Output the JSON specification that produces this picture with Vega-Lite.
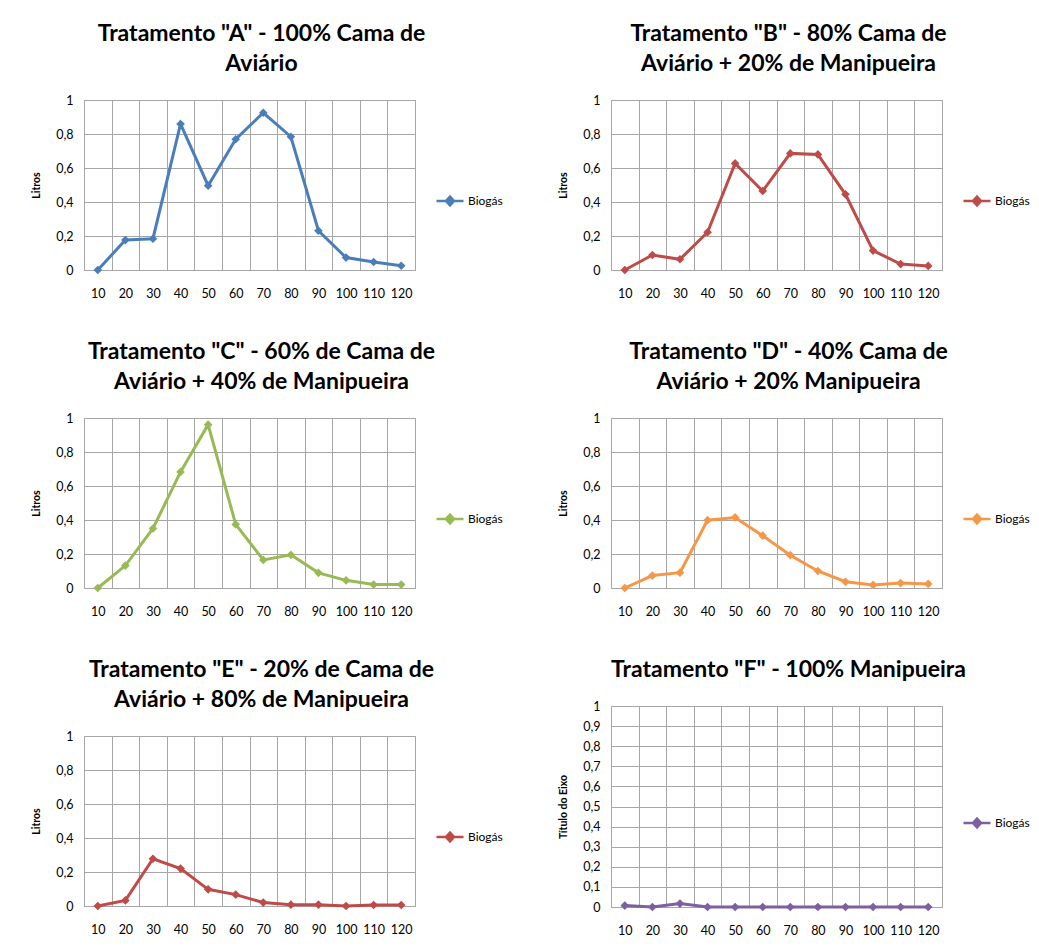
{
  "$schema": "https://vega.github.io/schema/vega-lite/v6.json",
  "padding": {"left": 31, "top": 22, "right": 0, "bottom": 0},
  "background": "white",
  "datasets": {
    "biogas": [
      {"trat": "A", "dia": 10, "litros": 0.0},
      {"trat": "A", "dia": 20, "litros": 0.176},
      {"trat": "A", "dia": 30, "litros": 0.184},
      {"trat": "A", "dia": 40, "litros": 0.859},
      {"trat": "A", "dia": 50, "litros": 0.496},
      {"trat": "A", "dia": 60, "litros": 0.769},
      {"trat": "A", "dia": 70, "litros": 0.925},
      {"trat": "A", "dia": 80, "litros": 0.784},
      {"trat": "A", "dia": 90, "litros": 0.231},
      {"trat": "A", "dia": 100, "litros": 0.073},
      {"trat": "A", "dia": 110, "litros": 0.047},
      {"trat": "A", "dia": 120, "litros": 0.025},
      {"trat": "B", "dia": 10, "litros": 0.0},
      {"trat": "B", "dia": 20, "litros": 0.088},
      {"trat": "B", "dia": 30, "litros": 0.063},
      {"trat": "B", "dia": 40, "litros": 0.222},
      {"trat": "B", "dia": 50, "litros": 0.627},
      {"trat": "B", "dia": 60, "litros": 0.465},
      {"trat": "B", "dia": 70, "litros": 0.686},
      {"trat": "B", "dia": 80, "litros": 0.68},
      {"trat": "B", "dia": 90, "litros": 0.445},
      {"trat": "B", "dia": 100, "litros": 0.114},
      {"trat": "B", "dia": 110, "litros": 0.035},
      {"trat": "B", "dia": 120, "litros": 0.024},
      {"trat": "C", "dia": 10, "litros": 0.0},
      {"trat": "C", "dia": 20, "litros": 0.132},
      {"trat": "C", "dia": 30, "litros": 0.35},
      {"trat": "C", "dia": 40, "litros": 0.683},
      {"trat": "C", "dia": 50, "litros": 0.961},
      {"trat": "C", "dia": 60, "litros": 0.374},
      {"trat": "C", "dia": 70, "litros": 0.165},
      {"trat": "C", "dia": 80, "litros": 0.195},
      {"trat": "C", "dia": 90, "litros": 0.089},
      {"trat": "C", "dia": 100, "litros": 0.045},
      {"trat": "C", "dia": 110, "litros": 0.02},
      {"trat": "C", "dia": 120, "litros": 0.02},
      {"trat": "D", "dia": 10, "litros": 0.0},
      {"trat": "D", "dia": 20, "litros": 0.073},
      {"trat": "D", "dia": 30, "litros": 0.09},
      {"trat": "D", "dia": 40, "litros": 0.399},
      {"trat": "D", "dia": 50, "litros": 0.415},
      {"trat": "D", "dia": 60, "litros": 0.308},
      {"trat": "D", "dia": 70, "litros": 0.193},
      {"trat": "D", "dia": 80, "litros": 0.1},
      {"trat": "D", "dia": 90, "litros": 0.037},
      {"trat": "D", "dia": 100, "litros": 0.018},
      {"trat": "D", "dia": 110, "litros": 0.029},
      {"trat": "D", "dia": 120, "litros": 0.024},
      {"trat": "E", "dia": 10, "litros": 0.0},
      {"trat": "E", "dia": 20, "litros": 0.033},
      {"trat": "E", "dia": 30, "litros": 0.278},
      {"trat": "E", "dia": 40, "litros": 0.22},
      {"trat": "E", "dia": 50, "litros": 0.098},
      {"trat": "E", "dia": 60, "litros": 0.067},
      {"trat": "E", "dia": 70, "litros": 0.02},
      {"trat": "E", "dia": 80, "litros": 0.008},
      {"trat": "E", "dia": 90, "litros": 0.008},
      {"trat": "E", "dia": 100, "litros": 0.0},
      {"trat": "E", "dia": 110, "litros": 0.006},
      {"trat": "E", "dia": 120, "litros": 0.006},
      {"trat": "F", "dia": 10, "litros": 0.007},
      {"trat": "F", "dia": 20, "litros": 0.0},
      {"trat": "F", "dia": 30, "litros": 0.017},
      {"trat": "F", "dia": 40, "litros": 0.0},
      {"trat": "F", "dia": 50, "litros": 0.0},
      {"trat": "F", "dia": 60, "litros": 0.0},
      {"trat": "F", "dia": 70, "litros": 0.0},
      {"trat": "F", "dia": 80, "litros": 0.0},
      {"trat": "F", "dia": 90, "litros": 0.0},
      {"trat": "F", "dia": 100, "litros": 0.0},
      {"trat": "F", "dia": 110, "litros": 0.0},
      {"trat": "F", "dia": 120, "litros": 0.0}
    ]
  },
  "data": {"name": "biogas"},
  "columns": 2,
  "align": {"row": "none", "column": "all"},
  "spacing": {"column": 54, "row": 40},
  "resolve": {"scale": {"color": "independent", "x": "independent", "y": "independent"}, "legend": {"color": "independent"}},
  "concat": [
    {
      "width": 331, "height": 170,
      "title": {"text": ["Tratamento \"A\" - 100% Cama de", "Aviário"]},
      "transform": [{"filter": "datum.trat === 'A'"}],
      "encoding": {
        "x": {"field": "dia", "type": "ordinal", "bandPosition": 0.5, "scale": {"type": "band", "paddingInner": 0, "paddingOuter": 0}, "axis": {"title": null, "labelAngle": 0, "tickBand": "extent", "ticks": false, "domain": false, "grid": true}},
        "y": {"field": "litros", "type": "quantitative", "scale": {"domain": [0, 1], "nice": false}, "axis": {"title": "Litros", "values": [0, 0.2, 0.4, 0.6, 0.8, 1], "labelExpr": "replace(format(datum.value, '~g'), '.', ',')", "ticks": false, "domain": false}},
        "color": {"datum": "Biogás", "type": "nominal", "scale": {"range": ["#4A7EBB"]}, "legend": {"orient": "none", "legendX": 351, "legendY": 86}}
      },
      "layer": [
        {"mark": {"type": "line", "strokeWidth": 3}},
        {"mark": {"type": "point", "shape": "diamond", "filled": true, "size": 75, "opacity": 1}}
      ]
    },
    {
      "width": 331, "height": 170,
      "title": {"text": ["Tratamento \"B\" - 80% Cama de", "Aviário + 20% de Manipueira"]},
      "transform": [{"filter": "datum.trat === 'B'"}],
      "encoding": {
        "x": {"field": "dia", "type": "ordinal", "bandPosition": 0.5, "scale": {"type": "band", "paddingInner": 0, "paddingOuter": 0}, "axis": {"title": null, "labelAngle": 0, "tickBand": "extent", "ticks": false, "domain": false, "grid": true}},
        "y": {"field": "litros", "type": "quantitative", "scale": {"domain": [0, 1], "nice": false}, "axis": {"title": "Litros", "values": [0, 0.2, 0.4, 0.6, 0.8, 1], "labelExpr": "replace(format(datum.value, '~g'), '.', ',')", "ticks": false, "domain": false}},
        "color": {"datum": "Biogás", "type": "nominal", "scale": {"range": ["#BE4B48"]}, "legend": {"orient": "none", "legendX": 351, "legendY": 86}}
      },
      "layer": [
        {"mark": {"type": "line", "strokeWidth": 3}},
        {"mark": {"type": "point", "shape": "diamond", "filled": true, "size": 75, "opacity": 1}}
      ]
    },
    {
      "width": 331, "height": 170,
      "title": {"text": ["Tratamento \"C\" - 60% de Cama de", "Aviário + 40% de Manipueira"]},
      "transform": [{"filter": "datum.trat === 'C'"}],
      "encoding": {
        "x": {"field": "dia", "type": "ordinal", "bandPosition": 0.5, "scale": {"type": "band", "paddingInner": 0, "paddingOuter": 0}, "axis": {"title": null, "labelAngle": 0, "tickBand": "extent", "ticks": false, "domain": false, "grid": true}},
        "y": {"field": "litros", "type": "quantitative", "scale": {"domain": [0, 1], "nice": false}, "axis": {"title": "Litros", "values": [0, 0.2, 0.4, 0.6, 0.8, 1], "labelExpr": "replace(format(datum.value, '~g'), '.', ',')", "ticks": false, "domain": false}},
        "color": {"datum": "Biogás", "type": "nominal", "scale": {"range": ["#98B954"]}, "legend": {"orient": "none", "legendX": 351, "legendY": 86}}
      },
      "layer": [
        {"mark": {"type": "line", "strokeWidth": 3}},
        {"mark": {"type": "point", "shape": "diamond", "filled": true, "size": 75, "opacity": 1}}
      ]
    },
    {
      "width": 331, "height": 170,
      "title": {"text": ["Tratamento \"D\" - 40% Cama de", "Aviário + 20% Manipueira"]},
      "transform": [{"filter": "datum.trat === 'D'"}],
      "encoding": {
        "x": {"field": "dia", "type": "ordinal", "bandPosition": 0.5, "scale": {"type": "band", "paddingInner": 0, "paddingOuter": 0}, "axis": {"title": null, "labelAngle": 0, "tickBand": "extent", "ticks": false, "domain": false, "grid": true}},
        "y": {"field": "litros", "type": "quantitative", "scale": {"domain": [0, 1], "nice": false}, "axis": {"title": "Litros", "values": [0, 0.2, 0.4, 0.6, 0.8, 1], "labelExpr": "replace(format(datum.value, '~g'), '.', ',')", "ticks": false, "domain": false}},
        "color": {"datum": "Biogás", "type": "nominal", "scale": {"range": ["#F79646"]}, "legend": {"orient": "none", "legendX": 351, "legendY": 86}}
      },
      "layer": [
        {"mark": {"type": "line", "strokeWidth": 3}},
        {"mark": {"type": "point", "shape": "diamond", "filled": true, "size": 75, "opacity": 1}}
      ]
    },
    {
      "width": 331, "height": 170,
      "title": {"text": ["Tratamento \"E\" - 20% de Cama de", "Aviário + 80% de Manipueira"]},
      "transform": [{"filter": "datum.trat === 'E'"}],
      "encoding": {
        "x": {"field": "dia", "type": "ordinal", "bandPosition": 0.5, "scale": {"type": "band", "paddingInner": 0, "paddingOuter": 0}, "axis": {"title": null, "labelAngle": 0, "tickBand": "extent", "ticks": false, "domain": false, "grid": true}},
        "y": {"field": "litros", "type": "quantitative", "scale": {"domain": [0, 1], "nice": false}, "axis": {"title": "Litros", "values": [0, 0.2, 0.4, 0.6, 0.8, 1], "labelExpr": "replace(format(datum.value, '~g'), '.', ',')", "ticks": false, "domain": false}},
        "color": {"datum": "Biogás", "type": "nominal", "scale": {"range": ["#BE4B48"]}, "legend": {"orient": "none", "legendX": 351, "legendY": 86}}
      },
      "layer": [
        {"mark": {"type": "line", "strokeWidth": 3}},
        {"mark": {"type": "point", "shape": "diamond", "filled": true, "size": 75, "opacity": 1}}
      ]
    },
    {
      "width": 331, "height": 201,
      "title": {"text": "Tratamento \"F\" - 100% Manipueira"},
      "transform": [{"filter": "datum.trat === 'F'"}],
      "encoding": {
        "x": {"field": "dia", "type": "ordinal", "bandPosition": 0.5, "scale": {"type": "band", "paddingInner": 0, "paddingOuter": 0}, "axis": {"title": null, "labelAngle": 0, "tickBand": "extent", "ticks": false, "domain": false, "grid": true}},
        "y": {"field": "litros", "type": "quantitative", "scale": {"domain": [0, 1], "nice": false}, "axis": {"title": "Título do Eixo", "values": [0, 0.1, 0.2, 0.3, 0.4, 0.5, 0.6, 0.7, 0.8, 0.9, 1], "labelExpr": "replace(format(datum.value, '~g'), '.', ',')", "ticks": false, "domain": false}},
        "color": {"datum": "Biogás", "type": "nominal", "scale": {"range": ["#7D60A0"]}, "legend": {"orient": "none", "legendX": 351, "legendY": 102}}
      },
      "layer": [
        {"mark": {"type": "line", "strokeWidth": 3}},
        {"mark": {"type": "point", "shape": "diamond", "filled": true, "size": 75, "opacity": 1}}
      ]
    }
  ],
  "config": {
    "font": "Lato",
    "view": {"stroke": "#A6A6A6", "strokeWidth": 1},
    "title": {"font": "Lato", "fontSize": 23, "fontWeight": "bold", "color": "#000000", "lineHeight": 30, "anchor": "middle", "frame": "group", "offset": 18, "dx": 12},
    "axis": {"labelFont": "Lato", "labelFontSize": 12.5, "labelColor": "#000000", "gridColor": "#A6A6A6", "gridWidth": 1, "gridOpacity": 1, "titleFont": "Lato", "titleFontSize": 10.5, "titleFontWeight": "bold", "titleColor": "#000000"},
    "axisY": {"labelPadding": 11, "titlePadding": 14},
    "axisX": {"labelPadding": 17},
    "legend": {"title": null, "labelFont": "Lato", "labelFontSize": 12, "labelColor": "#000000", "symbolType": "M-1,0H1M0,-0.32L0.3,0L0,0.32L-0.3,0Z", "symbolSize": 729, "symbolStrokeWidth": 2.5, "labelOffset": 3}
  }
}
